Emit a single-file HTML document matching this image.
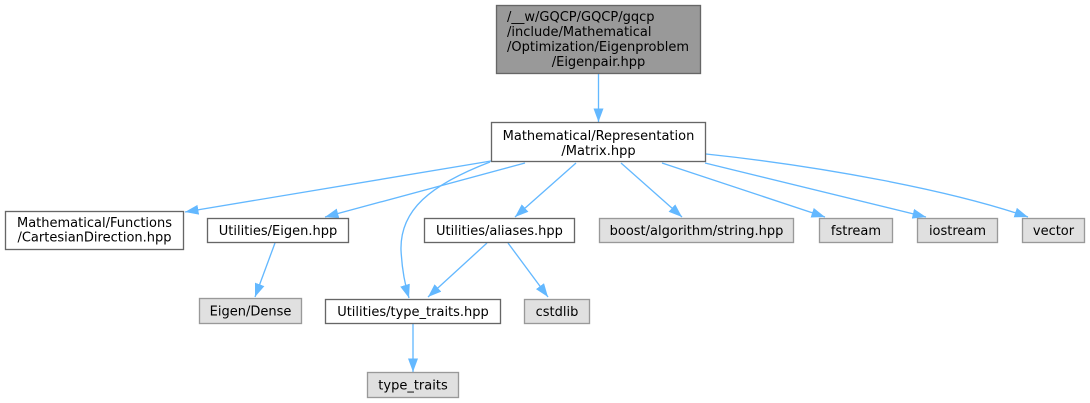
<!DOCTYPE html>
<html>
<head>
<meta charset="utf-8">
<style>
  html, body { margin: 0; padding: 0; background: #ffffff; }
  svg { display: block; }
  text { font-family: "DejaVu Sans", "Liberation Sans", sans-serif; font-size: 13px; fill: #000; }
</style>
</head>
<body>
<svg width="1090" height="403" viewBox="0 0 1090 403" xmlns="http://www.w3.org/2000/svg">
  <defs>
    <marker id="ah" markerUnits="userSpaceOnUse" markerWidth="15" markerHeight="11" refX="13.5" refY="5" orient="auto">
      <path d="M0,0 L13.5,5 L0,10 z" fill="#63b8ff" stroke="none"/>
    </marker>
  </defs>

  <g fill="none" stroke="#63b8ff" stroke-width="1.33" marker-end="url(#ah)">
    <path d="M598.5,74 L598.5,122"/>
    <path d="M491,161 L185,212"/>
    <path d="M525,163 L325,217"/>
    <path d="M490,162 C430,185 400,210 401,250 C402,270 405,285 409,298"/>
    <path d="M576,163 L515,217"/>
    <path d="M621,163 L682,217"/>
    <path d="M662,163 L825,217"/>
    <path d="M705,163 L926,217"/>
    <path d="M706,154 C820,166 950,190 1028,217"/>
    <path d="M275,243 L255,297"/>
    <path d="M487,243 L428,297"/>
    <path d="M508,243 L548,297"/>
    <path d="M413,324 L413,372"/>
  </g>

  <!-- nodes -->
  <g stroke-width="1.33">
    <rect x="496.5" y="5.5" width="204" height="68" fill="#999999" stroke="#666666"/>
    <rect x="491.5" y="122.5" width="214" height="39" fill="#ffffff" stroke="#666666"/>
    <rect x="5.5" y="211.5" width="178" height="38" fill="#ffffff" stroke="#666666"/>
    <rect x="207.5" y="218.5" width="141" height="24" fill="#ffffff" stroke="#666666"/>
    <rect x="199.5" y="298.5" width="102" height="25" fill="#e0e0e0" stroke="#999999"/>
    <rect x="424.5" y="218.5" width="150" height="24" fill="#ffffff" stroke="#666666"/>
    <rect x="325.5" y="299.5" width="175" height="24" fill="#ffffff" stroke="#666666"/>
    <rect x="524.5" y="299.5" width="65" height="24" fill="#e0e0e0" stroke="#999999"/>
    <rect x="367.5" y="372.5" width="91" height="25" fill="#e0e0e0" stroke="#999999"/>
    <rect x="599.5" y="218.5" width="194" height="24" fill="#e0e0e0" stroke="#999999"/>
    <rect x="819.5" y="218.5" width="73" height="24" fill="#e0e0e0" stroke="#999999"/>
    <rect x="917.5" y="218.5" width="80" height="24" fill="#e0e0e0" stroke="#999999"/>
    <rect x="1022.5" y="218.5" width="62" height="24" fill="#e0e0e0" stroke="#999999"/>
  </g>

  <!-- labels -->
  <text x="507" y="21">/__w/GQCP/GQCP/gqcp</text>
  <text x="507" y="36">/include/Mathematical</text>
  <text x="507" y="51">/Optimization/Eigenproblem</text>
  <text x="598.5" y="66" text-anchor="middle">/Eigenpair.hpp</text>

  <text x="598.5" y="140" text-anchor="middle">Mathematical/Representation</text>
  <text x="598.5" y="155" text-anchor="middle">/Matrix.hpp</text>

  <text x="94.5" y="227" text-anchor="middle">Mathematical/Functions</text>
  <text x="94.5" y="241.5" text-anchor="middle">/CartesianDirection.hpp</text>

  <text x="278" y="235" text-anchor="middle">Utilities/Eigen.hpp</text>
  <text x="250.5" y="315.5" text-anchor="middle">Eigen/Dense</text>
  <text x="499.5" y="235" text-anchor="middle">Utilities/aliases.hpp</text>
  <text x="413" y="316" text-anchor="middle">Utilities/type_traits.hpp</text>
  <text x="557" y="316" text-anchor="middle">cstdlib</text>
  <text x="413" y="389.5" text-anchor="middle">type_traits</text>
  <text x="696.5" y="235" text-anchor="middle">boost/algorithm/string.hpp</text>
  <text x="856" y="235" text-anchor="middle">fstream</text>
  <text x="957.5" y="235" text-anchor="middle">iostream</text>
  <text x="1053.5" y="235" text-anchor="middle">vector</text>
</svg>
</body>
</html>
